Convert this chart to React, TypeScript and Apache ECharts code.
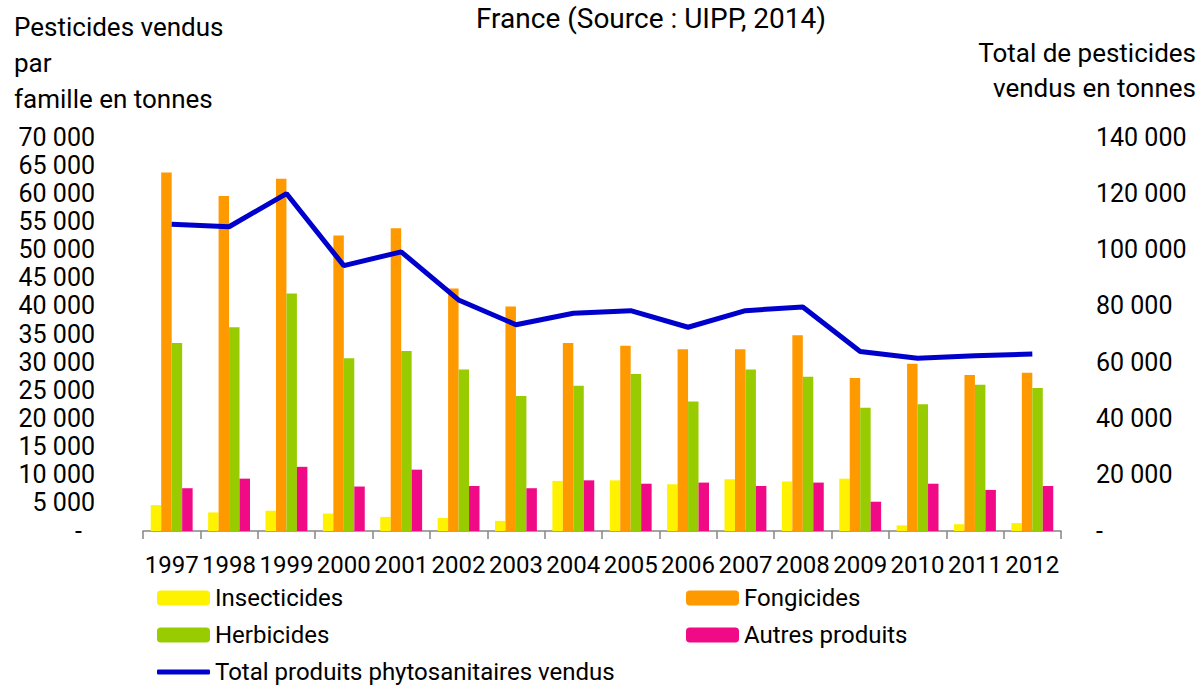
import React, { useEffect, useRef } from "react";
import * as echarts from "echarts";

const years = ["1997","1998","1999","2000","2001","2002","2003","2004","2005","2006","2007","2008","2009","2010","2011","2012"];
const insecticides = [4600,3300,3600,3100,2500,2300,1800,8900,9000,8300,9200,8800,9300,1000,1200,1400];
const fongicides = [63700,59500,62600,52500,53800,43100,39900,33400,32900,32300,32300,34800,27200,29700,27700,28100];
const herbicides = [33400,36200,42200,30700,32000,28700,24000,25800,27900,23000,28700,27400,21900,22500,26000,25400];
const autres = [7600,9300,11400,7900,10900,8000,7600,9000,8400,8600,8000,8600,5200,8400,7300,8000];
const total = [109000,108100,119900,94300,99200,82100,73300,77400,78300,72400,78300,79600,63800,61400,62300,62900];

const FONT = "Roboto, sans-serif";
const FS = 24;
const AXFS = 25;

function fmt(v: number): string {
  if (v === 0) return "-";
  return String(v).replace(/\B(?=(\d{3})+(?!\d))/g, " ");
}

export default function App() {
  const ref = useRef<HTMLDivElement>(null);
  useEffect(() => {
    document.body.style.margin = "0";
    const chart = echarts.init(ref.current!, null, { renderer: "svg" });
    const legendBase = {
      itemWidth: 53,
      itemHeight: 15,
      textStyle: { fontFamily: FONT, fontSize: FS, color: "#000" },
      selectedMode: false,
      padding: 0,
    };
    chart.setOption({
      animation: false,
      textStyle: { fontFamily: FONT },
      grid: { left: 143, right: 139, top: 137, bottom: 155 },
      graphic: [
        {
          type: "text", x: 651, y: 18,
          style: { text: "France (Source : UIPP, 2014)", fontFamily: FONT, fontSize: 28, fill: "#000", textAlign: "center", textVerticalAlign: "middle" },
        },
        {
          type: "text", x: 14, y: 9,
          style: { text: "Pesticides vendus\npar\nfamille en tonnes", fontFamily: FONT, fontSize: 26, lineHeight: 36, fill: "#000", textAlign: "left" },
        },
        {
          type: "text", x: 1196, y: 35,
          style: { text: "Total de pesticides\nvendus en tonnes", fontFamily: FONT, fontSize: 26, lineHeight: 35, fill: "#000", textAlign: "right" },
        },
      ],
      legend: [
        { ...legendBase, data: ["Insecticides"], left: 157, top: 586 },
        { ...legendBase, data: ["Fongicides"], left: 686, top: 586 },
        { ...legendBase, data: ["Herbicides"], left: 157, top: 623 },
        { ...legendBase, data: ["Autres produits"], left: 686, top: 623 },
        {
          ...legendBase,
          data: [{ name: "Total produits phytosanitaires vendus", icon: "roundRect" }],
          left: 157, top: 660, itemHeight: 5,
          itemStyle: { color: "#0000CC" },
        },
      ],
      xAxis: {
        type: "category",
        data: years,
        axisLine: { show: true, lineStyle: { color: "#868686", width: 1.5 } },
        axisTick: { show: true, length: 8, lineStyle: { color: "#868686", width: 1.5 } },
        axisLabel: { interval: 0, margin: 22, fontFamily: FONT, fontSize: FS, color: "#000" },
      },
      yAxis: [
        {
          type: "value", min: 0, max: 70000, interval: 5000,
          axisLine: { show: false }, axisTick: { show: false }, splitLine: { show: false },
          axisLabel: {
            margin: 48, fontFamily: FONT, fontSize: AXFS, color: "#000",
            formatter: (v: number) => (v === 0 ? "{d|-}" : fmt(v)),
            rich: { d: { fontFamily: FONT, fontSize: AXFS, color: "#000", padding: [0, 13, 0, 0] } },
          },
        },
        {
          type: "value", min: 0, max: 140000, interval: 20000, position: "right",
          axisLine: { show: false }, axisTick: { show: false }, splitLine: { show: false },
          axisLabel: { margin: 35, fontFamily: FONT, fontSize: AXFS, color: "#000", formatter: (v: number) => fmt(v) },
        },
      ],
      series: [
        { name: "Insecticides", type: "bar", data: insecticides, barGap: "0%", barCategoryGap: "27%", itemStyle: { color: "#FFF200" } },
        { name: "Fongicides", type: "bar", data: fongicides, itemStyle: { color: "#FF9900" } },
        { name: "Herbicides", type: "bar", data: herbicides, itemStyle: { color: "#99CC00" } },
        { name: "Autres produits", type: "bar", data: autres, itemStyle: { color: "#F00A86" } },
        {
          name: "Total produits phytosanitaires vendus", type: "line", yAxisIndex: 1, data: total,
          symbol: "none", showSymbol: false,
          lineStyle: { color: "#0000CC", width: 5 }, itemStyle: { color: "#0000CC" },
        },
      ],
    });
    return () => chart.dispose();
  }, []);
  return <div ref={ref} style={{ width: 1200, height: 686 }} />;
}
